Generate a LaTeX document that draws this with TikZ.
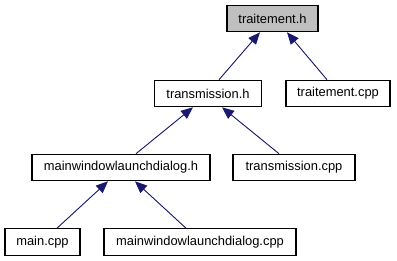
\documentclass[tikz,border=0pt]{standalone}
\usepackage{fontspec}
\setmainfont{Liberation Sans}
\usetikzlibrary{arrows.meta,calc}
\definecolor{edgeblue}{HTML}{191970}
\definecolor{focusgray}{HTML}{BFBFBF}
\begin{document}
\begin{tikzpicture}[x=1pt,y=-1pt,
  filebox/.style={draw=black,line width=1.1pt,fill=white,inner sep=0pt,
    minimum height=26.5pt,font=\fontsize{12.9}{15}\selectfont},
  dep/.style={draw=edgeblue,line width=0.9pt,
    -{Triangle[length=12pt,width=10pt]},fill=edgeblue}]
\useasboundingbox (0,0) rectangle (397,261);
\node[filebox,fill=focusgray,minimum width=91pt] (th) at (272.5,18.5) {traitement.h};
\node[filebox,minimum width=107pt] (tmh) at (208,93.5) {transmission.h};
\node[filebox,minimum width=104pt] (tcpp) at (338,93.5) {traitement.cpp};
\node[filebox,minimum width=178pt] (mwh) at (121,167.5) {mainwindowlaunchdialog.h};
\node[filebox,minimum width=122pt] (tmcpp) at (294,167.5) {transmission.cpp};
\node[filebox,minimum width=75pt] (mcpp) at (42.5,242) {main.cpp};
\node[filebox,minimum width=192pt] (mwcpp) at (200,242) {mainwindowlaunchdialog.cpp};
\draw[dep] ($(tmh.north)+(11,0)$) -- ($(th.south)+(-12.5,0)$);
\draw[dep] ($(tcpp.north)+(-11,0)$) -- ($(th.south)+(14.5,0)$);
\draw[dep] ($(mwh.north)+(15,0)$) -- ($(tmh.south)+(-15,0)$);
\draw[dep] ($(tmcpp.north)+(-15,0)$) -- ($(tmh.south)+(14,0)$);
\draw[dep] ($(mcpp.north)+(14.5,0)$) -- ($(mwh.south)+(-13,0)$);
\draw[dep] ($(mwcpp.north)+(-14,0)$) -- ($(mwh.south)+(14,0)$);
\end{tikzpicture}
\end{document}
